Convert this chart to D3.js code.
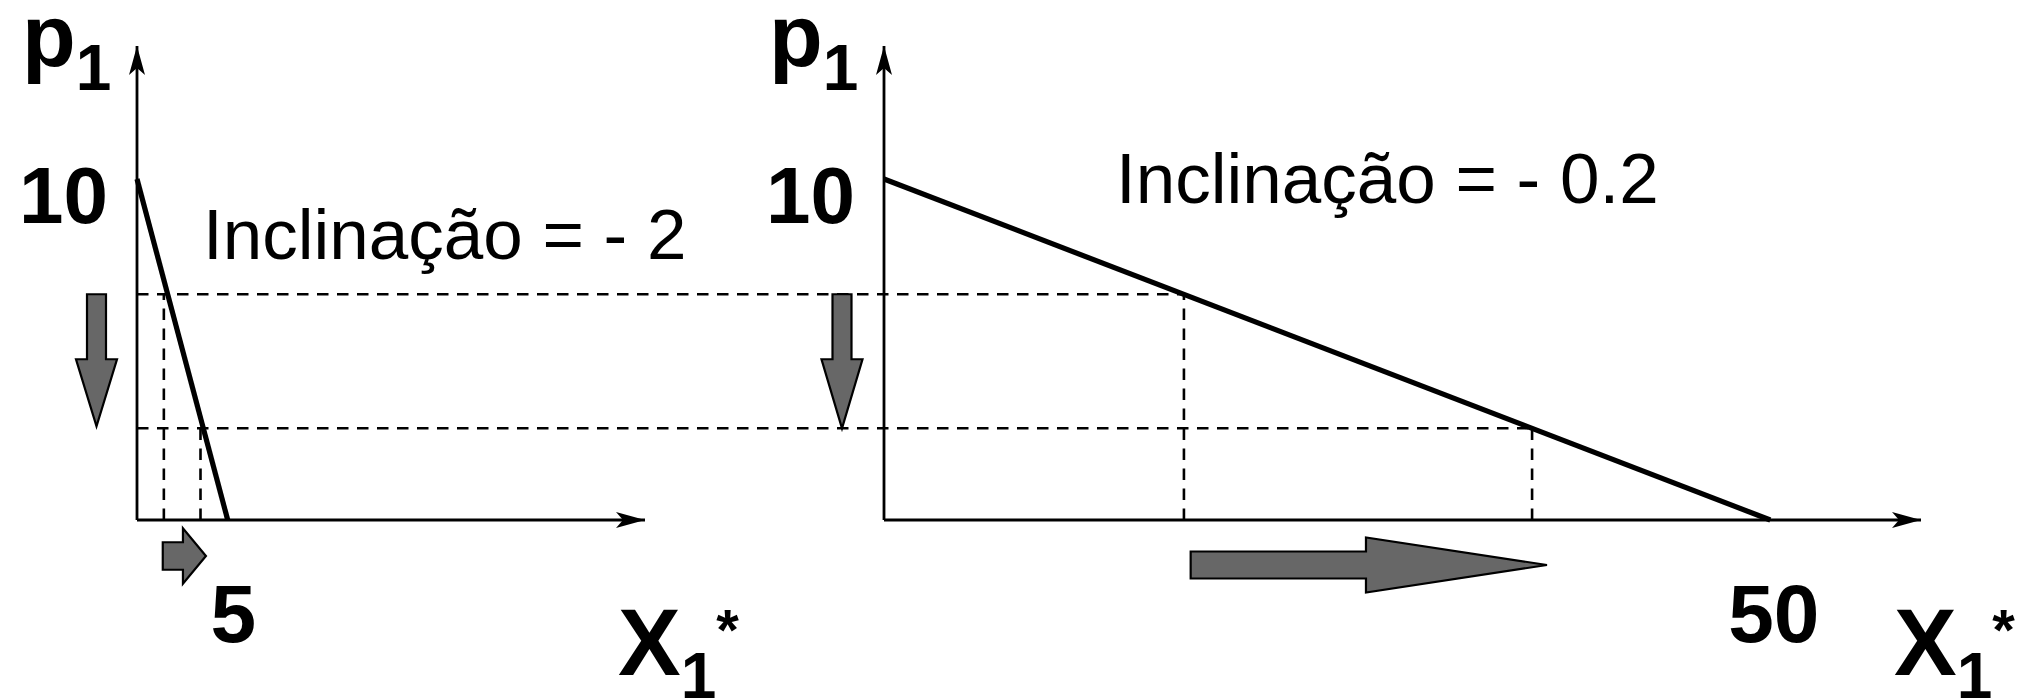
<!DOCTYPE html>
<html>
<head>
<meta charset="utf-8">
<script src="https://cdn.jsdelivr.net/npm/d3@7"></script>
<style>
  body { margin: 0; background: #fff; }
  svg { display: block; }
</style>
</head>
<body>
<div id="chart"></div>
<script>
// demand lines (x = quantity, p = price)
const demandLeft = [{x: 0, p: 10}, {x: 5, p: 0}];
const demandRight = [{x: 0, p: 10}, {x: 50, p: 0}];

// the two price levels (dashed horizontals)
const priceLevels = [6.62, 2.69];
// where the dashed verticals drop, per panel
const dropsLeft = [1.48, 3.5];
const dropsRight = [16.92, 36.56];

// change in quantity shown by the block arrows under each axis
const shiftLeft = [1.42, 3.8];
const shiftRight = [17.3, 37.4];

const ticksX = {left: [5], right: [50]};
const ticksY = [10];
const slopeLabels = ["Inclinação = - 2", "Inclinação = - 0.2"];

const W = 2028, H = 699;
const font = "'Liberation Sans', Arial, sans-serif";

const svg = d3.select("#chart")
    .append("svg")
    .attr("width", W)
    .attr("height", H);

svg.append("rect").attr("width", W).attr("height", H).attr("fill", "#fff");

const y = d3.scaleLinear().domain([0, 13.9]).range([520, 46]);
const xL = d3.scaleLinear().domain([0, 28]).range([137, 645]);
const xR = d3.scaleLinear().domain([0, 58.5]).range([884, 1921]);

// stealth arrow head for the axes
svg.append("defs").append("marker")
    .attr("id", "head")
    .attr("viewBox", "-30 -10 32 20")
    .attr("refX", 0).attr("refY", 0)
    .attr("markerWidth", 32).attr("markerHeight", 20)
    .attr("markerUnits", "userSpaceOnUse")
    .attr("orient", "auto")
    .append("path")
    .attr("d", "M0,0 L-29,-8 L-22,0 L-29,8 Z")
    .attr("fill", "#000");

function drawAxes(x) {
    const [x0, x1] = x.range();
    const [y0, y1] = y.range();
    svg.append("line")
        .attr("x1", x0).attr("y1", y0).attr("x2", x1).attr("y2", y0)
        .attr("stroke", "#000").attr("stroke-width", 2.8)
        .attr("marker-end", "url(#head)");
    svg.append("line")
        .attr("x1", x0).attr("y1", y0).attr("x2", x0).attr("y2", y1)
        .attr("stroke", "#000").attr("stroke-width", 2.8)
        .attr("marker-end", "url(#head)");
}
drawAxes(xL);
drawAxes(xR);

// dashed guides
const dash = "11.5,8.5";
priceLevels.forEach((p, i) => {
    svg.append("line")
        .attr("x1", xL(0)).attr("x2", xR(dropsRight[i]))
        .attr("y1", y(p)).attr("y2", y(p))
        .attr("stroke", "#000").attr("stroke-width", 2.6)
        .attr("stroke-dasharray", dash);
    [[xL, dropsLeft], [xR, dropsRight]].forEach(([x, drops]) => {
        svg.append("line")
            .attr("x1", x(drops[i])).attr("x2", x(drops[i]))
            .attr("y1", y(0)).attr("y2", y(p))
            .attr("stroke", "#000").attr("stroke-width", 2.6)
            .attr("stroke-dasharray", dash);
    });
});

// demand lines
const line = x => d3.line().x(d => x(d.x)).y(d => y(d.p));
svg.append("path").datum(demandLeft)
    .attr("d", line(xL))
    .attr("fill", "none").attr("stroke", "#000").attr("stroke-width", 5.2);
svg.append("path").datum(demandRight)
    .attr("d", line(xR))
    .attr("fill", "none").attr("stroke", "#000").attr("stroke-width", 5.2);

// block arrow polygon from (x1,y1) to tip (x2,y2)
function blockArrow(x1, y1, x2, y2, shaft, headW, headL) {
    const len = Math.hypot(x2 - x1, y2 - y1);
    const ux = (x2 - x1) / len, uy = (y2 - y1) / len;
    const nx = -uy, ny = ux;
    const bx = x2 - ux * headL, by = y2 - uy * headL;
    const pts = [
        [x1 + nx * shaft / 2, y1 + ny * shaft / 2],
        [bx + nx * shaft / 2, by + ny * shaft / 2],
        [bx + nx * headW / 2, by + ny * headW / 2],
        [x2, y2],
        [bx - nx * headW / 2, by - ny * headW / 2],
        [bx - nx * shaft / 2, by - ny * shaft / 2],
        [x1 - nx * shaft / 2, y1 - ny * shaft / 2]
    ];
    svg.append("path")
        .attr("d", "M" + pts.map(p => p.join(",")).join("L") + "Z")
        .attr("fill", "#676767")
        .attr("stroke", "#000")
        .attr("stroke-width", 2.2)
        .attr("stroke-linejoin", "miter");
}

// price falls
blockArrow(xL(0) - 40.5, y(priceLevels[0]), xL(0) - 40.5, y(priceLevels[1]) - 2, 19, 41, 67);
blockArrow(xR(0) - 42, y(priceLevels[0]), xR(0) - 42, y(priceLevels[1]), 19, 41, 69);
// quantity rises
blockArrow(xL(shiftLeft[0]), y(0) + 36, xL(shiftLeft[1]), y(0) + 36, 27.5, 55.5, 23);
blockArrow(xR(shiftRight[0]), y(0) + 45, xR(shiftRight[1]), y(0) + 45, 27, 55, 181);

// tick labels via d3 axes
function styleAxis(g, size) {
    g.select(".domain").remove();
    g.attr("font-family", font).attr("font-size", size).attr("font-weight", "bold");
    g.selectAll("text").attr("fill", "#000");
}
svg.append("g")
    .attr("transform", `translate(0,${y(0)})`)
    .call(d3.axisBottom(xL).tickValues(ticksX.left).tickSize(0).tickPadding(64))
    .call(g => styleAxis(g, 82))
    .selectAll("text").attr("dx", 5);
svg.append("g")
    .attr("transform", `translate(0,${y(0)})`)
    .call(d3.axisBottom(xR).tickValues(ticksX.right).tickSize(0).tickPadding(64))
    .call(g => styleAxis(g, 82))
    .selectAll("text").attr("dx", 3);
[xL, xR].forEach(x => {
    svg.append("g")
        .attr("transform", `translate(${x(0)},0)`)
        .call(d3.axisLeft(y).tickValues(ticksY).tickSize(0).tickPadding(29))
        .call(g => styleAxis(g, 80))
        .selectAll("text").attr("dy", "0.54em");
});

// axis titles
[xL, xR].forEach(x => {
    const t = svg.append("text")
        .attr("x", x(0) - 115).attr("y", 66)
        .attr("font-family", font).attr("font-weight", "bold")
        .attr("font-size", 88).attr("fill", "#000");
    t.append("tspan").text("p");
    t.append("tspan").attr("font-size", 64).attr("dy", 24).text("1");

    const u = svg.append("text")
        .attr("x", x.range()[1] - 27).attr("y", 675)
        .attr("font-family", font).attr("font-weight", "bold")
        .attr("font-size", 94).attr("fill", "#000");
    u.append("tspan").text("X");
    u.append("tspan").attr("font-size", 64).attr("dy", 23).text("1");
    u.append("tspan").attr("font-size", 58).attr("dy", -48).text("*");
});

// slope labels
svg.append("text")
    .attr("x", 203).attr("y", 259)
    .attr("font-family", font).attr("font-size", 71).attr("fill", "#000")
    .text(slopeLabels[0]);
svg.append("text")
    .attr("x", 1116).attr("y", 203)
    .attr("font-family", font).attr("font-size", 71).attr("fill", "#000")
    .text(slopeLabels[1]);
</script>
</body>
</html>
